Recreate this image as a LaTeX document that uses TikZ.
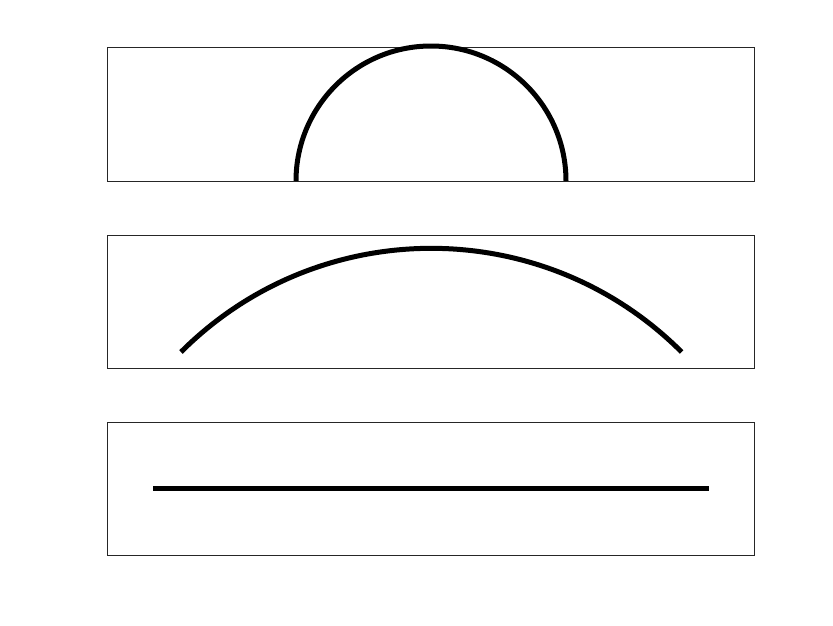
\documentclass[tikz,border=0pt]{standalone}
\begin{document}
\begin{tikzpicture}[x=1pt,y=-1pt,
  frame/.style={draw=black!85,line width=0.9pt},
  curve/.style={draw=black,line width=5pt}]
\useasboundingbox[fill=white] (0,0) rectangle (833,625);
% frames
\draw[frame] (107.5,47) rectangle (754,181);
\draw[frame] (107.5,235) rectangle (754,368);
\draw[frame] (107.5,422) rectangle (754,555);
% semicircle
\draw[curve] (296,181) arc[start angle=180,end angle=0,radius=135pt];
% shallow arc
\draw[curve] (181,352) arc[start angle=135,end angle=45,radius=354pt];
% straight line
\draw[curve] (153,488) -- (709,488);
\end{tikzpicture}
\end{document}
